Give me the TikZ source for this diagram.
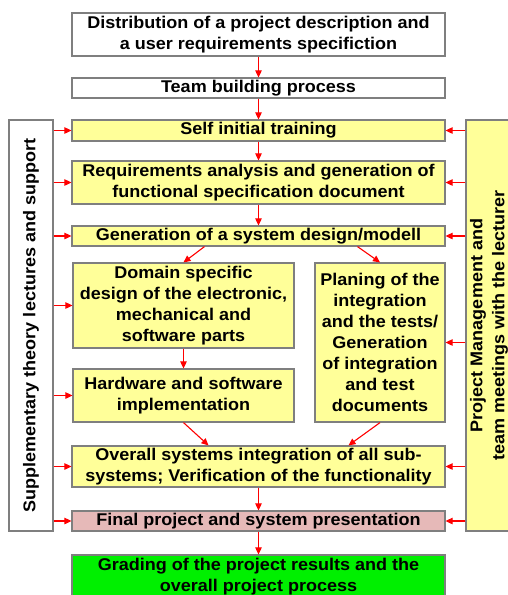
\documentclass[tikz,border=0pt]{standalone}
\usepackage{fontspec}
\setmainfont[FakeStretch=1.06]{Liberation Sans}
\usepackage{xcolor}
\usetikzlibrary{positioning,arrows.meta}
\definecolor{boxyellow}{HTML}{FFFF99}
\definecolor{boxpink}{HTML}{E6B9B8}
\definecolor{boxgreen}{HTML}{00F000}
\definecolor{boxedge}{HTML}{7F7F7F}
\tikzset{
  stage/.style={draw=boxedge, line width=1.2pt, fill=#1, inner sep=0pt, align=center,
    font=\bfseries\fontsize{17}{21}\selectfont},
  stage/.default=boxyellow,
  sidetext/.style={rotate=90, align=center, font=\bfseries\fontsize{17}{22}\selectfont},
  flow/.style={draw=red, line width=1.1pt, -{Triangle[length=7pt,width=6.5pt]}}
}
\begin{document}
\begin{tikzpicture}[x=1pt, y=-1pt]
    \useasboundingbox (0,0) rectangle (507,595);

    % Side boxes
    \node[stage=white, minimum width=44pt, minimum height=411pt] (theory) at (31,325.5) {};
    \node[sidetext] (theorytext) at (theory.center) {Supplementary theory lectures and support};
    \node[stage, minimum width=48pt, minimum height=411pt] (mgmt) at (490,325.5) {};
    \node[sidetext] (mgmttext) at (489,325.5) {Project Management and\\team meetings with the lecturer};

    % Main flow
    \node[stage=white, minimum width=373pt, minimum height=43pt] (dist) at (258.5,34.5)
        {Distribution of a project description and\\a user requirements specifiction};
    \node[stage=white, minimum width=373pt, minimum height=20pt] (team) at (258.5,88) {Team building process};
    \node[stage, minimum width=373pt, minimum height=21pt] (self) at (258.5,130.5) {Self initial training};
    \node[stage, minimum width=373pt, minimum height=43pt] (req) at (258.5,182.5)
        {Requirements analysis and generation of\\functional specification document};
    \node[stage, minimum width=373pt, minimum height=20pt] (gen) at (258.5,236) {Generation of a system design/modell};
    \node[stage, minimum width=221pt, minimum height=85pt] (domain) at (183.5,305.5)
        {Domain specific\\design of the electronic,\\mechanical and\\software parts};
    \node[stage, minimum width=130pt, minimum height=159pt] (plan) at (380,342.5)
        {Planing of the\\integration\\and the tests/\\Generation\\of integration\\and test\\documents};
    \node[stage, minimum width=221pt, minimum height=53pt] (hw) at (183.5,395.5)
        {Hardware and software\\implementation};
    \node[stage, minimum width=373pt, minimum height=41pt] (overall) at (258.5,466.5)
        {Overall systems integration of all sub-\\systems; Verification of the functionality};
    \node[stage=boxpink, minimum width=373pt, minimum height=20pt] (final) at (258.5,521) {Final project and system presentation};
    \node[stage=boxgreen, minimum width=373pt, minimum height=43pt] (grade) at (258.5,576.5)
        {Grading of the project results and the\\overall project process};

    % Arrows down the flow
    \draw[flow] (dist) -- (team);
    \draw[flow] (team) -- (self);
    \draw[flow] (self) -- (req);
    \draw[flow] (req) -- (gen);
    \draw[flow] ([xshift=-54pt]gen.south) -- (domain.north);
    \draw[flow] ([xshift=99pt]gen.south) -- (plan.north);
    \draw[flow] (domain) -- (hw);
    \draw[flow] (hw.south) -- ([xshift=-50pt]overall.north);
    \draw[flow] (plan.south) -- ([xshift=90pt]overall.north);
    \draw[flow] (overall) -- (final);
    \draw[flow] (final) -- (grade);

    % Arrows from the side boxes
    \foreach \stage in {self,req,gen,domain,hw,overall,final}
        \draw[flow] (theory.east |- \stage.west) -- (\stage.west);
    \foreach \stage in {self,req,gen,plan,overall,final}
        \draw[flow] (mgmt.west |- \stage.east) -- (\stage.east);
\end{tikzpicture}
\end{document}
